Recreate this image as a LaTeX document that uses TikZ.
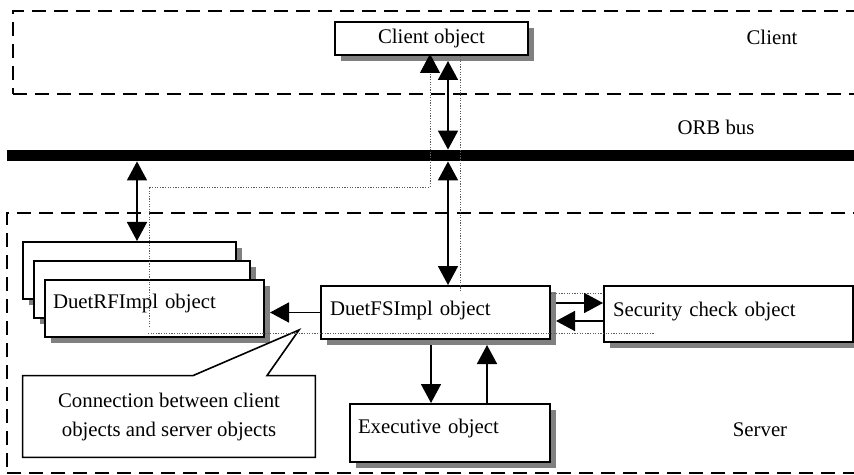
\documentclass[tikz,border=0pt]{standalone}
\usepackage{fontspec}
\setmainfont{Liberation Serif}
\usepackage{tikz}
\usetikzlibrary{
  arrows.meta,
  shadows
}
\tikzset{
  every node/.style={inner sep=2pt}
}
\definecolor{shadowGray}{RGB}{128, 128, 128}
\definecolor{traceGray}{RGB}{90, 90, 90}

\begin{document}
\begin{tikzpicture}[
    x=0.5pt, y=-0.5pt,
    font=\fontsize{10.4}{14.5}\selectfont,
    obj/.style={rectangle, draw, fill=white, line width=1pt, inner sep=0pt, align=left,
        drop shadow={shadow xshift=2.8pt, shadow yshift=-2.8pt, fill=shadowGray, opacity=1}},
    region/.style={rectangle, draw, line width=1pt, dash pattern=on 7pt off 4pt, anchor=north west, inner sep=0pt},
    arrow/.style={-{Triangle[length=9.5pt, width=10pt]}, line width=0.8pt},
    dbl/.style={{Triangle[length=9.5pt, width=10pt]}-{Triangle[length=9.5pt, width=10pt]}, line width=0.8pt},
    trace/.style={draw=traceGray, line width=0.45pt, dash pattern=on 0.6pt off 0.7pt}
]

    \useasboundingbox (0,0) rectangle (854,475);
    \clip (0,0) rectangle (854,475);

    % client and server areas
    \node[region, minimum width=444pt, minimum height=41.5pt] (clientarea) at (12,10) {};
    \node[region, minimum width=447pt, minimum height=130pt] (serverarea) at (6,212) {};

    \node (clientlbl) at (772,37) {Client};
    \node (orblbl) at (716,127) {ORB bus};
    \node (serverlbl) at (760,430) {Server};

    \node[fill=black, inner sep=0pt, minimum width=423.5pt, minimum height=5.5pt] (bus) at (430.5,155.5) {};

    \node[obj, align=center, minimum width=96.5pt, minimum height=16.5pt] (client) at (431.5,38.5) {Client object};

    % stacked server objects
    \node[obj, minimum width=106.5pt, minimum height=28.5pt] (rf1) at (129.5,270.5) {};
    \node[obj, minimum width=108pt, minimum height=28.5pt] (rf2) at (142,289.5) {};
    \node[obj, minimum width=109.5pt, minimum height=28.5pt, text width=101.5pt, text depth=7pt] (rf3) at (154.5,308.5) {DuetRFImpl object};

    \node[obj, minimum width=114.5pt, minimum height=26.5pt, text width=105.5pt, text depth=4.5pt] (fs) at (435.5,312.5) {DuetFSImpl object};

    \node[obj, minimum width=124.5pt, minimum height=28pt, text width=115.5pt, text depth=5.2pt] (sec) at (728.5,314) {Security check object};

    \node[obj, minimum width=100pt, minimum height=29pt, text width=92pt, text depth=7pt] (exec) at (450,433) {Executive object};

    % callout
    \node[align=center, inner sep=0pt, minimum width=146pt, minimum height=40.5pt] (note) at (169,416.5) {Connection between client\\objects and server objects};
    \coordinate (tip) at (299,330);
    \draw[line width=0.8pt] (note.north west) -- (note.north west -| 193,0) -- (tip) -- (note.north west -| 267,0)
        -- (note.north east) -- (note.south east) -- (note.south west) -- cycle;

    \draw[dbl] (bus.south -| 137,0) -- (rf1.north -| 137,0);
    \draw[dbl, shorten <=2.5pt] (client.south -| 448,0) -- (bus.north -| 448,0);
    \draw[dbl] (bus.south -| 448,0) -- (fs.north -| 448,0);

    \draw[arrow, shorten >=2.5pt] (fs.west) -- (fs.west -| rf3.east);
    \draw[arrow, shorten <=2.5pt] (fs.east |- 0,303) -- (sec.west |- 0,303);
    \draw[arrow, shorten >=2.5pt] (sec.west |- 0,321) -- (fs.east |- 0,321);
    \draw[arrow, shorten <=2.5pt] (fs.south -| 431,0) -- (exec.north -| 431,0);
    \draw[arrow, shorten >=2.5pt] (exec.north -| 487,0) -- (fs.south -| 487,0);

    % connection traces
    \coordinate (rfTrace) at (149,327);
    \coordinate (bend) at (430,187);
    \coordinate (traceL) at (148,333);
    \coordinate (traceR) at (655,333);
    \draw[trace, -{Triangle[length=9.5pt, width=10pt, color=black]}, shorten >=-1pt] (rfTrace) |- (bend) -- (client.south -| bend);
    \draw[trace] (client.south -| 460,0) -- (fs.north -| 460,0) -- ++(0,6);
    \draw[trace] (traceL) -- (traceR);
    \draw[trace] (fs.east |- 0,293) -- (sec.west |- 0,293);

\end{tikzpicture}
\end{document}
